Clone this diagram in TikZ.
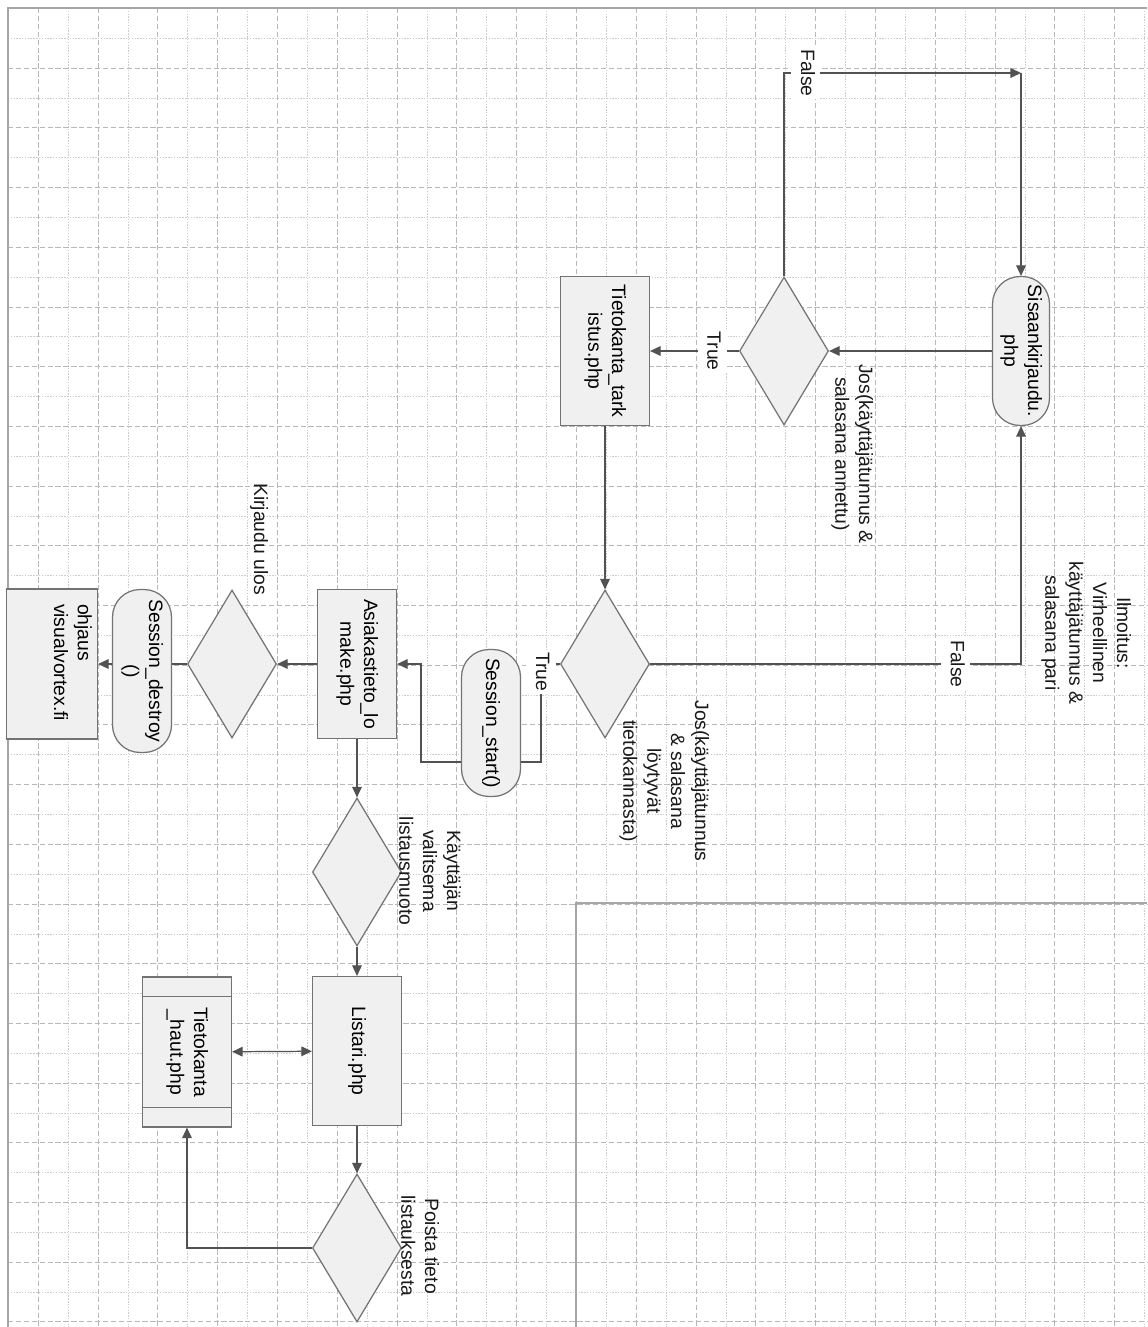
\documentclass[tikz,border=0pt]{standalone}
\usepackage{fontspec}
\setmainfont{Liberation Sans}
\usepackage{graphicx}
\usetikzlibrary{arrows.meta,shapes.geometric}

\newcommand{\vt}[2][c]{\rotatebox{-90}{\begin{tabular}{@{}#1@{}}#2\end{tabular}}}

\begin{document}
\begin{tikzpicture}[x=0.02cm,y=-0.02cm,
  font=\fontsize{11}{13.6}\selectfont,
  box/.style={draw=black!55,fill=black!6,line width=0.7pt,inner sep=0pt,minimum width=1.78cm,minimum height=2.98cm},
  term/.style={box,rounded corners=0.55cm,minimum width=1.18cm},
  dec/.style={diamond,draw=black!55,fill=black!6,line width=0.7pt,inner sep=0pt,minimum width=1.78cm,minimum height=2.96cm},
  lbl/.style={inner sep=1pt,text=black!90},
  onl/.style={fill=white,inner sep=1.5pt,text=black!90},
  edge/.style={draw=black!68,line width=0.7pt},
  arr/.style={edge,-{Triangle[length=6pt,width=5.5pt]}},
  arrtwo/.style={edge,{Triangle[length=6pt,width=5.5pt]}-{Triangle[length=6pt,width=5.5pt]}},
  gmaj/.style={draw=black!28,line width=0.5pt,dash pattern=on 3pt off 1.5pt},
  gmin/.style={draw=black!20,line width=0.4pt,dash pattern=on 0.8pt off 0.8pt},
  gborder/.style={draw=black!35,line width=0.7pt}]
  \fill[white] (0,0) rectangle (1147,1327);
  \useasboundingbox (0,0) rectangle (1147,1327);
  % grid
  \foreach \k in {2,4,...,38} \draw[gmin] (8.3+29.9*\k,8) -- (8.3+29.9*\k,1327);
  \foreach \k in {1,3,...,43} \draw[gmin] (8,8.5+29.85*\k) -- (1147,8.5+29.85*\k);
  \foreach \k in {1,3,...,37} \draw[gmaj] (8.3+29.9*\k,8) -- (8.3+29.9*\k,1327);
  \foreach \k in {2,4,...,44} \draw[gmaj] (8,8.5+29.85*\k) -- (1147,8.5+29.85*\k);
  \draw[gborder] (8,1327) -- (8,8) -- (1147,8);
  \draw[gborder] (576,1327) -- (576,903) -- (1147,903);

  \node[term,minimum width=1.14cm] (sisaan) at (1021,351) {\vt{Sisaankirjaudu.\\php}};
  \node[dec] (d1) at (784,351) {};
  \node[box] (tark) at (605,351) {\vt{Tietokanta\_tark\\istus.php}};
  \node[dec] (d2) at (605,664) {};
  \node[term,minimum height=2.94cm] (sstart) at (491,723) {\vt{Session\_start()}};
  \node[box,minimum width=1.58cm] (asiak) at (357,664) {\vt{Asiakastieto\_lo\\make.php}};
  \node[dec] (d3) at (232,664) {};
  \node[term,minimum height=3.26cm] (sdestroy) at (142,671) {\vt{Session\_destroy\\()}};
  \node[box,minimum width=1.82cm,minimum height=3cm] (ohjaus) at (52,664)
    {\rotatebox{-90}{\parbox[c][1.6cm][t]{2.4cm}{\raggedright ohjaus\\visualvortex.fi}}};
  \node[dec] (d4) at (357,872) {};
  \node[box] (listari) at (357,1051) {\vt{Listari.php}};
  \node[box,minimum height=3cm] (haut) at (187,1052) {\vt{Tietokanta\\\_haut.php}};
  \draw[edge,draw=black!55] ([yshift=-0.4cm]haut.north west) -- ([yshift=-0.4cm]haut.north east);
  \draw[edge,draw=black!55] ([yshift=0.4cm]haut.south west) -- ([yshift=0.4cm]haut.south east);
  \node[dec] (d5) at (357,1248) {};

  \node[lbl] (jos1) at (852,454) {\vt{Jos(käyttäjätunnus \&\\salasana annettu)}};
  \node[lbl] (ilmoitus) at (1086,633) {\vt{Ilmoitus:\\Virheellinen\\käyttäjätunnus \&\\salasana pari}};
  \node[lbl] (jos2) at (664,781) {\vt{Jos(käyttäjätunnus\\\& salasana\\löytyvät\\tietokannasta)}};
  \node[lbl] (ulos) at (259,539) {\vt{Kirjaudu ulos}};
  \node[lbl] (valinta) at (428,871) {\vt{Käyttäjän\\valitsema\\listausmuoto}};
  \node[lbl] (poista) at (418,1246) {\vt{Poista tieto\\listauksesta}};

  \coordinate (ftop) at (sisaan.north |- 0,73);
  \coordinate (tbend) at (541,762);
  \coordinate (sbend) at (421,762);
  \draw[arr] (sisaan) -- (d1);
  \draw[arr] (d1) -- node[onl,pos=0.3] (t1) {\vt{True}} (tark);
  \draw[arr] (d1.north) |- node[onl,pos=0.546] (f1) {\vt{False}} (ftop);
  \draw[arr] (ftop) -- (sisaan.north);
  \draw[arr] (tark) -- (d2);
  \draw[arr] (d2.east) -| node[onl,pos=0.412] (f2) {\vt{False}} (sisaan.south);
  \draw[edge] (d2.west) -| node[onl,pos=0.54] (t2) {\vt{True}} (tbend) -- (tbend -| sstart.east);
  \draw[arr] (sstart.west |- sbend) -- (sbend) |- (asiak.east);
  \draw[arr] (asiak) -- (d3);
  \draw[edge] (d3.west) -- (d3.west -| sdestroy.east);
  \draw[arr] (sdestroy.west |- ohjaus) -- (ohjaus.east);
  \draw[arr] (asiak) -- (d4);
  \draw[arr] (d4) -- (listari);
  \draw[arrtwo] (haut) -- (listari);
  \draw[arr] (listari) -- (d5);
  \draw[arr] (d5.west) -| (haut.south);
\end{tikzpicture}
\end{document}
